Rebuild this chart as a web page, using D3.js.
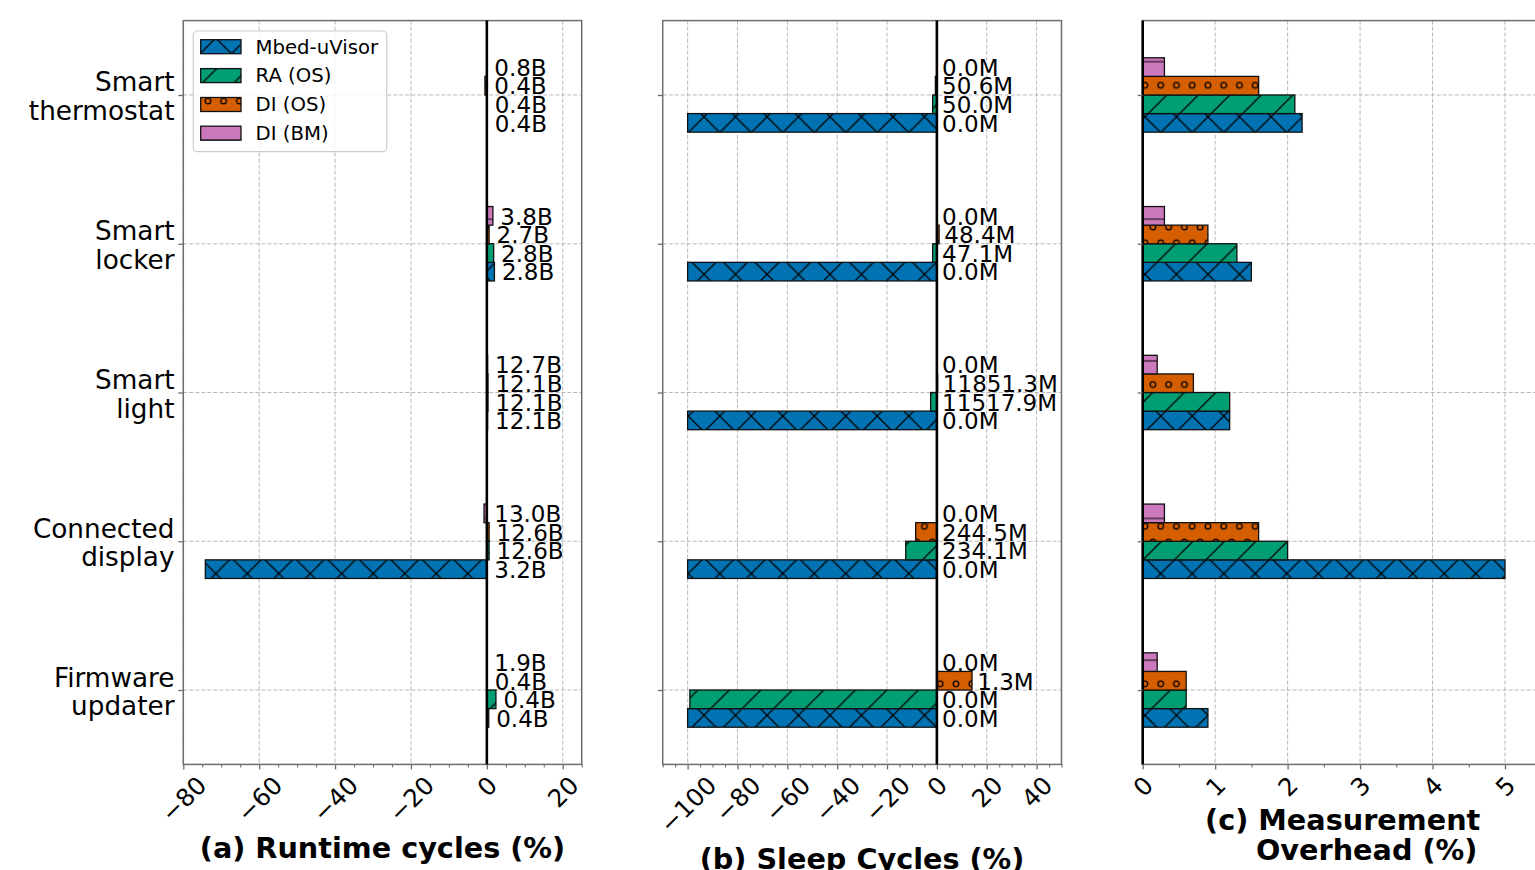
<!DOCTYPE html>
<html><head><meta charset="utf-8">
<script src="https://cdn.jsdelivr.net/npm/d3@7"></script>
<style>
body{margin:0;background:#fff}
svg{display:block;font-family:"DejaVu Sans",sans-serif}
</style>
</head><body>
<svg id="chart" width="1535" height="870"></svg>
<script>
// ---------------- data ----------------
const categories = [["Smart","thermostat"],["Smart","locker"],["Smart","light"],["Connected","display"],["Firmware","updater"]];
const seriesNames = ["Mbed-uVisor","RA (OS)","DI (OS)","DI (BM)"];

// (a) Runtime cycles (%)
const runtimeMbed = [0.1, 2.0, 0.2, -74.2, 0.5];
const runtimeRA   = [0.1, 1.8, 0.3, 0.6, 2.4];
const runtimeDIOS = [-0.5, 0.6, 0.3, 0.6, 0.1];
const runtimeDIBM = [0.0, 1.6, 0.2, -0.75, 0.0];
const runtimeLabMbed = ["0.4B","2.8B","12.1B","3.2B","0.4B"];
const runtimeLabRA   = ["0.4B","2.8B","12.1B","12.6B","0.4B"];
const runtimeLabDIOS = ["0.4B","2.7B","12.1B","12.6B","0.4B"];
const runtimeLabDIBM = ["0.8B","3.8B","12.7B","13.0B","1.9B"];
const runtimeTicks = [-80,-60,-40,-20,0,20];
const runtimeDomain = [-80, 25];

// (b) Sleep cycles (%)
const sleepMbed = [-100, -100, -100, -100, -100];
const sleepRA   = [-1.7, -1.7, -2.5, -12.5, -99.1];
const sleepDIOS = [-0.6, 0.9, 0.3, -8.5, 14.1];
const sleepDIBM = [0, 0, 0, 0, 0];
const sleepLabMbed = ["0.0M","0.0M","0.0M","0.0M","0.0M"];
const sleepLabRA   = ["50.0M","47.1M","11517.9M","234.1M","0.0M"];
const sleepLabDIOS = ["50.6M","48.4M","11851.3M","244.5M","1.3M"];
const sleepLabDIBM = ["0.0M","0.0M","0.0M","0.0M","0.0M"];
const sleepTicks = [-100,-80,-60,-40,-20,0,20,40];
const sleepDomain = [-110, 50];

// (c) Measurement overhead (%)
const overheadMbed = [2.2, 1.5, 1.2, 5.0, 0.9];
const overheadRA   = [2.1, 1.3, 1.2, 2.0, 0.6];
const overheadDIOS = [1.6, 0.9, 0.7, 1.6, 0.6];
const overheadDIBM = [0.3, 0.3, 0.2, 0.3, 0.2];
const overheadTicks = [0,1,2,3,4,5];
const overheadDomain = [0, 5.5];

const titles = [["(a) Runtime cycles (%)"],["(b) Sleep Cycles (%)"],["(c) Measurement","Overhead (%)"]];

// ---------------- setup ----------------
const svg = d3.select("#chart");
const colors = ["#0173B2","#029E73","#D55E00","#CC78BC"];
const patIds = ["hatchX","hatchSlash","hatchO","hatchDash"];
const offsets = [0.1875, 0.0625, -0.0625, -0.1875];
const barW = 0.125;
const spineColor = "#6e6e6e";
const gridColor = "#b8b8b8";

const y = d3.scaleLinear().domain([-0.5, 4.5]).range([20.6, 764.4]);

// hatch patterns
const defs = svg.append("defs");
const T = 31.5, Ox = 11.0, Oy = 22.3, hw = 1.3;
function pat(id, color) {
  const p = defs.append("pattern").attr("id", id).attr("patternUnits","userSpaceOnUse")
    .attr("x", Ox).attr("y", Oy).attr("width", T).attr("height", T);
  p.append("rect").attr("width", T).attr("height", T).attr("fill", color);
  return p;
}
const slash = "M-8,8L8,-8M-8,39.5L39.5,-8M23.5,39.5L39.5,23.5";
const back = "M-8,-8L39.5,39.5M23.5,-8L39.5,8M-8,23.5L8,39.5";
pat(patIds[0], colors[0]).append("path").attr("d", slash + back).attr("stroke","#000").attr("stroke-width",hw).attr("fill","none");
pat(patIds[1], colors[1]).append("path").attr("d", slash).attr("stroke","#000").attr("stroke-width",hw).attr("fill","none");
const po = pat(patIds[2], colors[2]);
[[0,0],[15.75,0],[31.5,0],[0,31.5],[15.75,31.5],[31.5,31.5],[7.875,15.75],[23.625,15.75]].forEach(c => {
  po.append("circle").attr("cx", c[0]).attr("cy", c[1]).attr("r", 2.8).attr("fill","none").attr("stroke","#000").attr("stroke-width",hw);
});
pat(patIds[3], colors[3]).append("path").attr("d","M-1,7.875H33M-1,23.625H33").attr("stroke","#000").attr("stroke-width",hw*0.8).attr("fill","none");

const panels = [
  {domain: runtimeDomain, range: [183.3, 581.7], ticks: runtimeTicks, minorStep: 5,
   vals: [runtimeMbed, runtimeRA, runtimeDIOS, runtimeDIBM],
   labs: [runtimeLabMbed, runtimeLabRA, runtimeLabDIOS, runtimeLabDIBM]},
  {domain: sleepDomain, range: [662.7, 1061.5], ticks: sleepTicks, minorStep: 5,
   vals: [sleepMbed, sleepRA, sleepDIOS, sleepDIBM],
   labs: [sleepLabMbed, sleepLabRA, sleepLabDIOS, sleepLabDIBM]},
  {domain: overheadDomain, range: [1142.7, 1541.2], ticks: overheadTicks, minorStep: 0.5,
   vals: [overheadMbed, overheadRA, overheadDIOS, overheadDIBM], labs: null}
];
const titlePos = [[[382.5, 858]], [[862.1, 869]], [[1342.7, 829.7],[1366.7, 860]]];

const fmtTick = d => (d < 0 ? "\u2212" + Math.abs(d) : String(d));
const tickFS = 24.5;

panels.forEach((p, pi) => {
  const x = d3.scaleLinear().domain(p.domain).range(p.range);
  const x0 = p.range[0], x1 = p.range[1], yT = y.range()[0], yB = y.range()[1];
  const g = svg.append("g");

  // grid
  g.selectAll(".gv").data(p.ticks).join("line")
    .attr("x1", d => x(d)).attr("x2", d => x(d)).attr("y1", yT).attr("y2", yB)
    .attr("stroke", gridColor).attr("stroke-width", 1).attr("stroke-dasharray", "4,2");
  g.selectAll(".gh").data(d3.range(categories.length)).join("line")
    .attr("x1", x0).attr("x2", x1).attr("y1", d => y(d)).attr("y2", d => y(d))
    .attr("stroke", gridColor).attr("stroke-width", 1).attr("stroke-dasharray", "4,2");

  // bars
  const bh = y(barW) - y(0);
  p.vals.forEach((vals, si) => {
    g.selectAll(null).data(vals).join("rect")
      .attr("x", d => Math.min(x(0), x(d)))
      .attr("width", d => Math.abs(x(d) - x(0)))
      .attr("y", (d, i) => y(i + offsets[si]) - bh / 2)
      .attr("height", bh)
      .attr("fill", "url(#" + patIds[si] + ")")
      .attr("stroke", "#111").attr("stroke-width", 1.3);
  });

  // spines
  g.append("rect").attr("x", x0).attr("y", yT).attr("width", x1 - x0).attr("height", yB - yT)
    .attr("fill", "none").attr("stroke", spineColor).attr("stroke-width", 1.5);

  // zero line
  g.append("line").attr("x1", x(0)).attr("x2", x(0)).attr("y1", yT).attr("y2", yB)
    .attr("stroke", "#000").attr("stroke-width", 2.6);

  // x axis (major + minor)
  const minor = d3.range(p.domain[0], p.domain[1] + 1e-9, p.minorStep)
    .filter(v => !p.ticks.some(t => Math.abs(t - v) < 1e-9));
  const ax = g.append("g").attr("transform", `translate(0,${yB})`)
    .call(d3.axisBottom(x).tickValues(p.ticks).tickSize(5).tickSizeOuter(0).tickFormat(fmtTick));
  ax.select(".domain").remove();
  ax.selectAll(".tick line").attr("stroke", spineColor).attr("stroke-width", 1.3);
  ax.selectAll(".tick text").attr("font-size", tickFS).attr("font-family", "DejaVu Sans").attr("fill", "#000")
    .each(function(d) {
      const t = d3.select(this);
      t.attr("y", null).attr("dy", "0.346em").attr("text-anchor", "middle");
      const w = this.getComputedTextLength();
      const h = tickFS * 1.164;
      const cy = 6.5 + (w + h) * Math.SQRT1_2 / 2;
      t.attr("transform", `translate(0,${cy}) rotate(-45)`);
    });
  const axm = g.append("g").attr("transform", `translate(0,${yB})`)
    .call(d3.axisBottom(x).tickValues(minor).tickSize(3).tickSizeOuter(0).tickFormat(""));
  axm.select(".domain").remove();
  axm.selectAll(".tick line").attr("stroke", spineColor).attr("stroke-width", 1.1);

  // y axis ticks
  const ay = g.append("g").attr("transform", `translate(${x0},0)`)
    .call(d3.axisLeft(y).tickValues(d3.range(categories.length)).tickSize(5).tickSizeOuter(0).tickFormat(""));
  ay.select(".domain").remove();
  ay.selectAll(".tick line").attr("stroke", spineColor).attr("stroke-width", 1.3);

  // value labels
  if (p.labs) {
    p.labs.forEach((labs, si) => {
      g.selectAll(null).data(labs).join("text")
        .attr("x", (d, i) => x(Math.max(p.vals[si][i], 0) + 1.7) + 1)
        .attr("y", (d, i) => y(i + offsets[si]) + 8.8)
        .attr("font-size", 23).attr("fill", "#000")
        .text(d => d);
    });
  }

  // x title
  titles[pi].forEach((line, li) => {
    g.append("text").attr("x", titlePos[pi][li][0]).attr("y", titlePos[pi][li][1])
      .attr("text-anchor", "middle").attr("font-size", 28.7).attr("font-weight", "bold")
      .attr("fill", "#000").text(line);
  });

  // category labels on first panel
  if (pi === 0) {
    categories.forEach((c, i) => {
      const t = g.append("text").attr("text-anchor", "end").attr("font-size", 26.3).attr("fill", "#000");
      t.append("tspan").attr("x", 174.5).attr("y", y(i) - 3.5).text(c[0]);
      t.append("tspan").attr("x", 174.5).attr("y", y(i) + 25).text(c[1]);
    });
  }
});

// legend (in panel a)
const lg = svg.append("g");
lg.append("rect").attr("x", 193.3).attr("y", 31).attr("width", 193.4).attr("height", 120.7)
  .attr("rx", 4).attr("fill", "#fff").attr("fill-opacity", 0.85).attr("stroke", "#cccccc").attr("stroke-width", 1.2);
const legY = [46.7, 75.6, 104.5, 133.2];
seriesNames.forEach((n, i) => {
  lg.append("rect").attr("x", 200.7).attr("y", legY[i] - 7).attr("width", 40.3).attr("height", 14)
    .attr("fill", "url(#" + patIds[i] + ")").attr("stroke", "#111").attr("stroke-width", 1.3);
  lg.append("text").attr("x", 255.5).attr("y", legY[i] + 6.8).attr("font-size", 19.7).attr("fill", "#000").text(n);
});
</script>
</body></html>
